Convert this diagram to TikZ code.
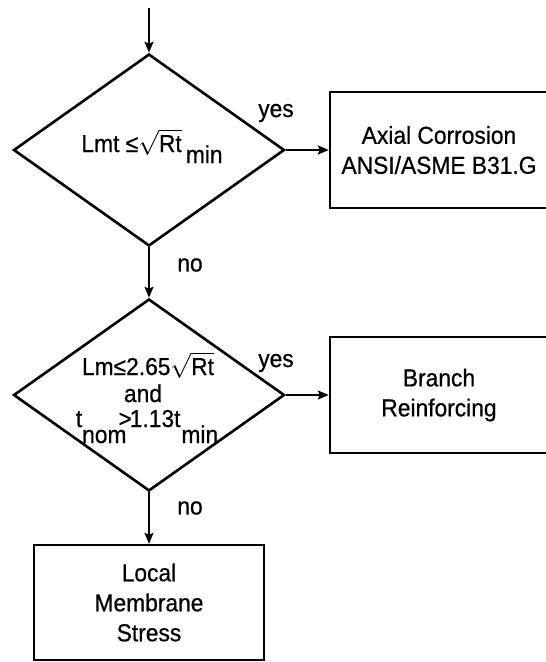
\documentclass[tikz,border=0pt]{standalone}
\usepackage{fontspec}
\setmainfont{Liberation Sans}[FakeStretch=0.93, FakeBold=0.6]
\usetikzlibrary{shapes.geometric,arrows.meta}
\tikzset{
  ask/.style={draw, diamond, line width=2.6pt, minimum width=271, minimum height=192, inner sep=0pt},
  box/.style={draw, rectangle, line width=2.4pt, align=center, inner sep=0pt},
  flow/.style={line width=1.8pt, -{Stealth[length=11pt, width=9pt, inset=2pt]}},
}
\begin{document}
\begin{tikzpicture}[x=1pt, y=-1pt, font=\fontsize{24.5}{30}\selectfont]
            \useasboundingbox (0,0) rectangle (546,662);
            \def\xa{149};
            \def\xb{439};
            \def\xt{276};

            \def\ya{150};
            \def\yb{395};
            \def\yc{602.5};

            \coordinate(s) at (\xa, 8);
            \node[ask](a) at (\xa, \ya) {};
            \node[ask](b) at (\xa, \yb) {};
            \node[box, minimum width=218, minimum height=116](c) at (\xb, \ya) {Axial Corrosion\\ANSI/ASME B31.G};
            \node[box, minimum width=218, minimum height=116](d) at (\xb, \yb) {Branch\\Reinforcing};
            \node[box, minimum width=230, minimum height=115](e) at (\xa, \yc) {Local\\Membrane\\Stress};

            \node[anchor=base](ta) at (152, 152) {Lmt ≤$\sqrt{\hbox{Rt}}$\,\raisebox{-11pt}{min}};
            \node[anchor=base](tb) at (148, 375) {Lm≤2.65$\sqrt{\hbox{Rt}}$};
            \node[anchor=base](tc) at (143, 402) {and};
            \node[anchor=base](td) at (147, 427) {t\raisebox{-16pt}{nom}\kern-8pt>\kern-2pt1.13t\kern1pt\raisebox{-16pt}{min}};

            \draw[flow] (s) -- (a.north);
            \draw[flow] (a.east) -- (c.west);
            \draw[flow] (a.south) -- (b.north);
            \draw[flow] (b.east) -- (d.west);
            \draw[flow] (b.south) -- (e.north);

            \node(ya) at (\xt, 113) {yes};
            \node(yb) at (\xt, 363) {yes};
            \node(na) at (190, 265) {no};
            \node(nb) at (190, 508) {no};
        \end{tikzpicture}
\end{document}
